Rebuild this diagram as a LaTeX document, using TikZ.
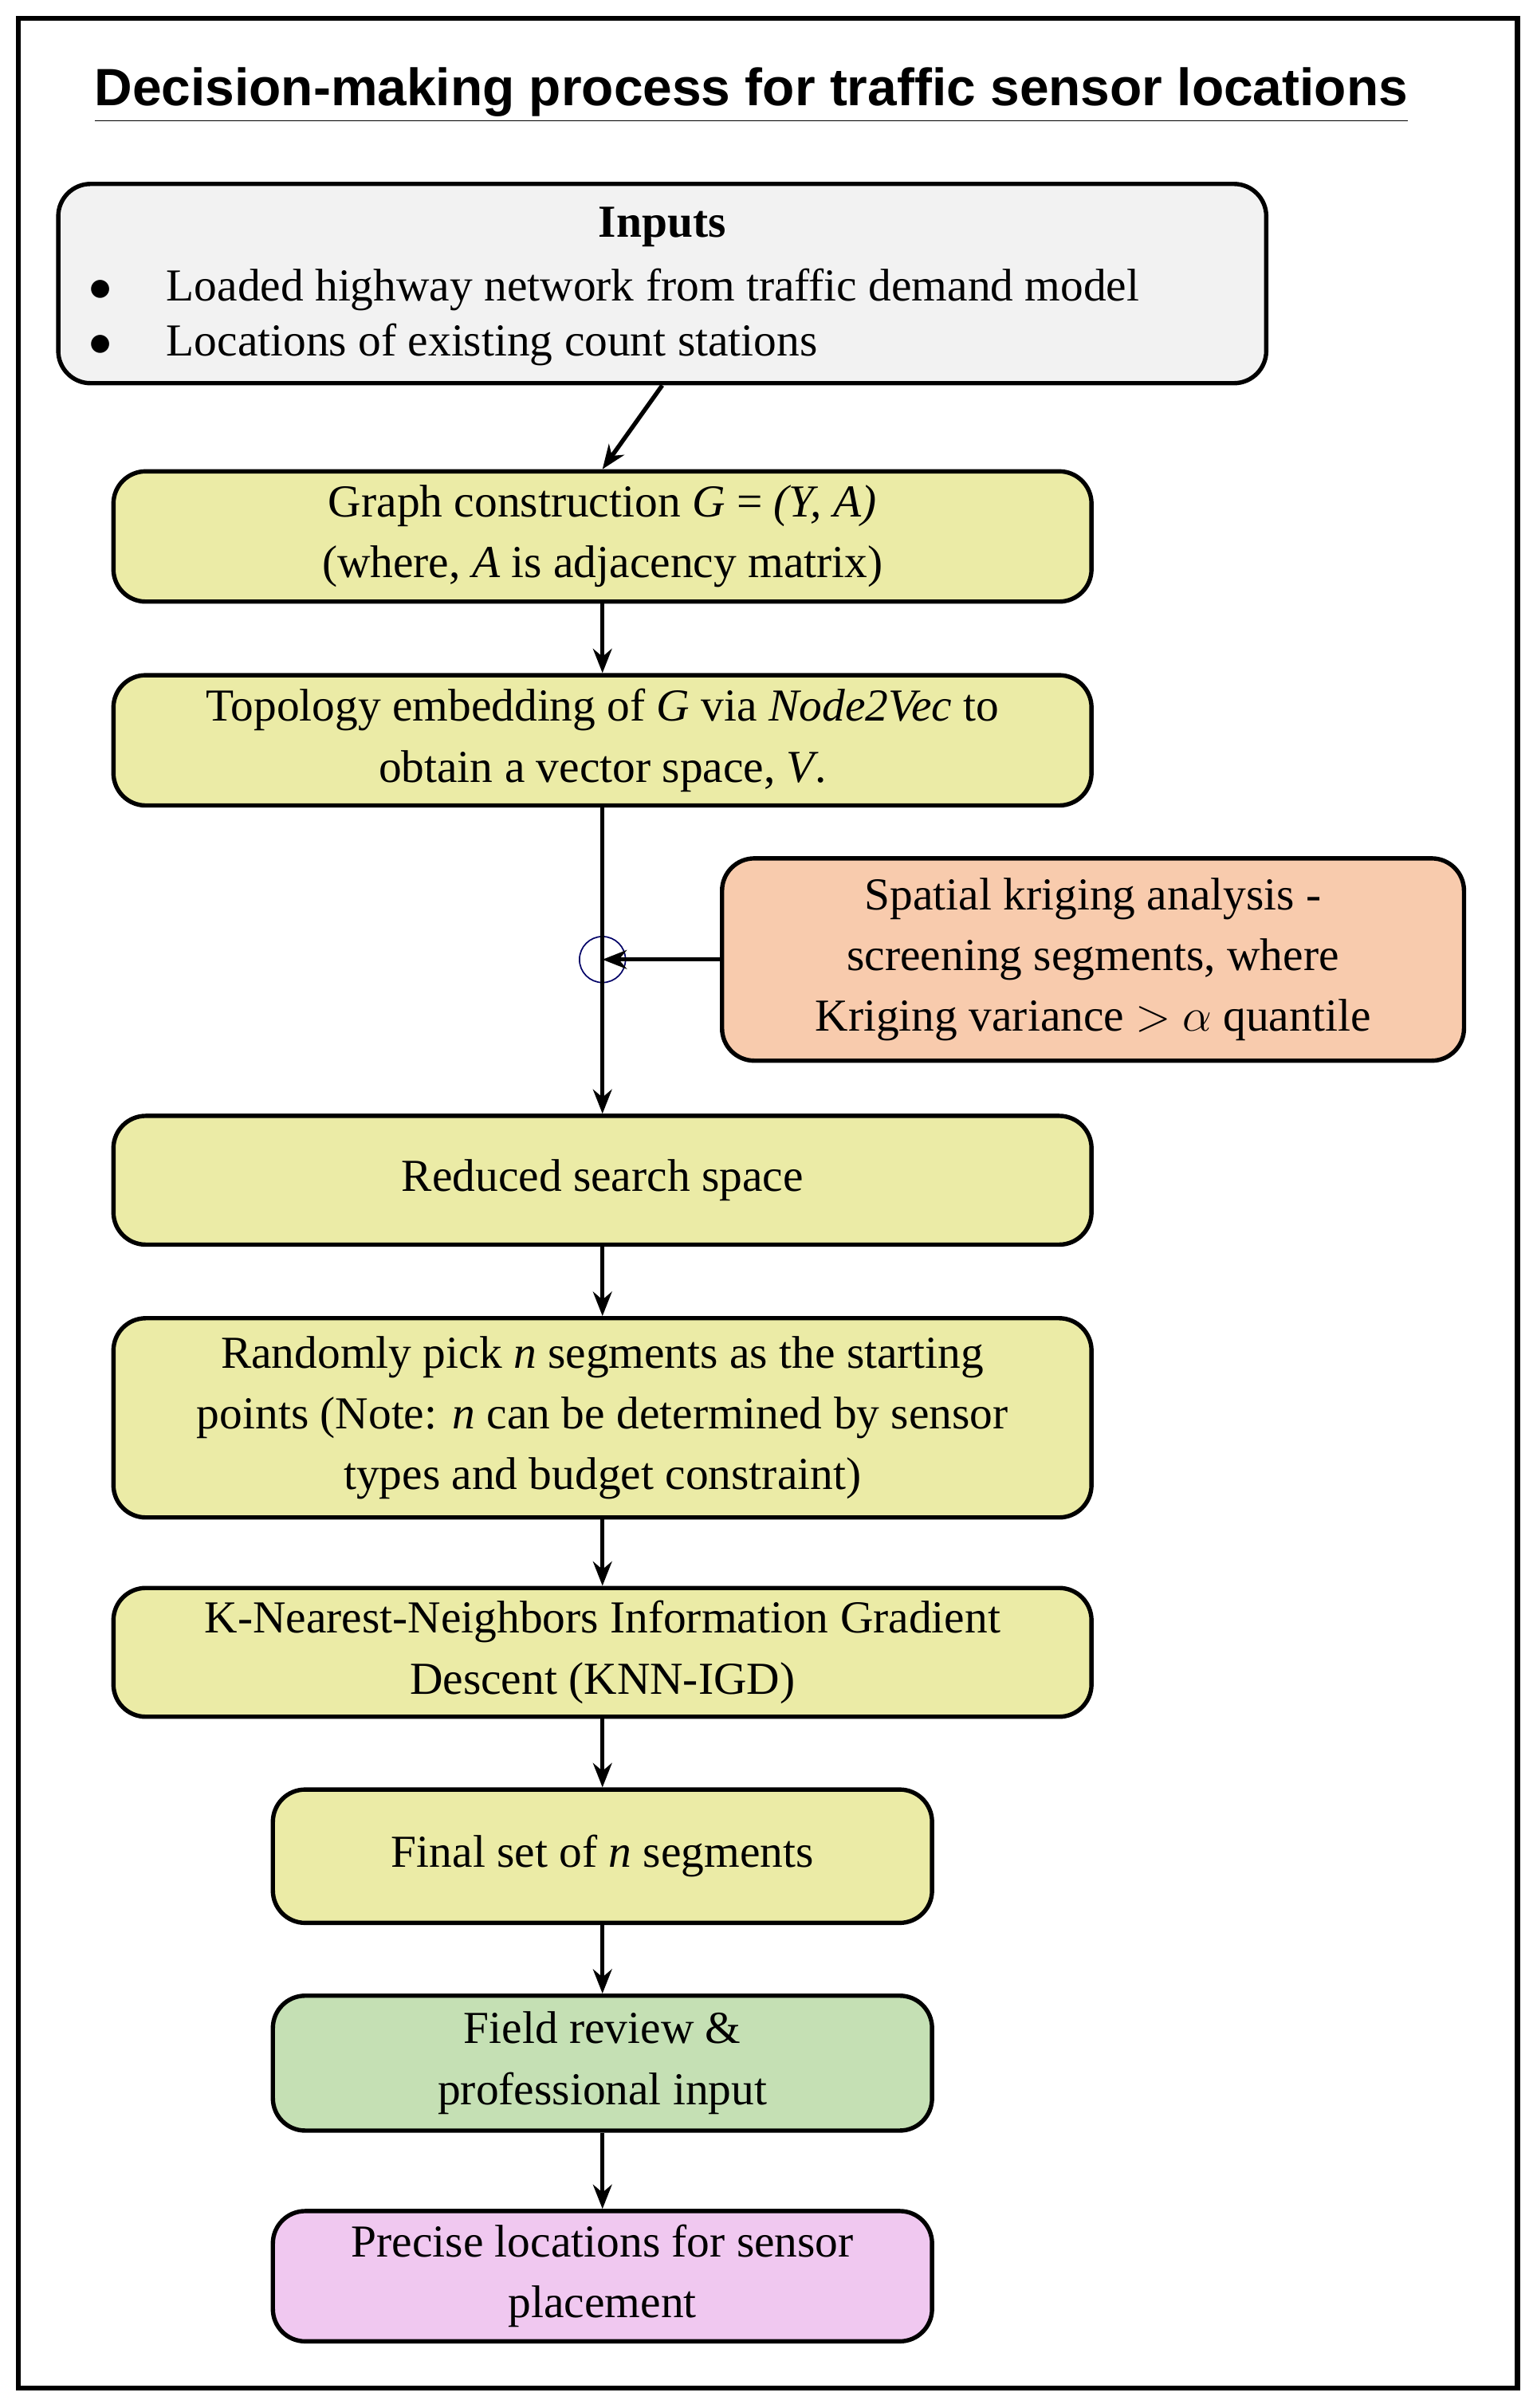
\documentclass[tikz,border=0pt]{standalone}
\usepackage{fontspec}
\setmainfont{Liberation Serif}
\newfontfamily\titlefont{Liberation Sans}
\usetikzlibrary{arrows.meta}
\definecolor{ylw}{HTML}{EBEBA6}
\definecolor{gry}{HTML}{F2F2F2}
\definecolor{org}{HTML}{F8CBAD}
\definecolor{grn}{HTML}{C5E0B4}
\definecolor{pnk}{HTML}{F0C8F0}
\begin{document}
\begin{tikzpicture}[x=0.02cm,y=-0.02cm,
 box/.style={draw=black,line width=1.6pt,rounded corners=12pt,align=center,inner sep=0pt,
   font=\fontsize{17}{22.6}\selectfont},
 arr/.style={line width=1.6pt,-{Stealth[length=9pt,width=7pt]}}]
\useasboundingbox (0,0) rectangle (1000,1571);
\draw[line width=2pt] (12,12) rectangle (990,1558);
\node (title) at (490,62) {\titlefont\bfseries\fontsize{19.5}{22}\selectfont\underline{Decision-making process for traffic sensor locations}};
\node[box,fill=gry,minimum width=788*0.02cm,minimum height=130*0.02cm] (inp) at (432,185) {};
\node[font=\fontsize{17}{22.6}\selectfont\bfseries] (inph) at (432,148) {Inputs};
\node[font=\fontsize{17}{22.6}\selectfont,align=left,anchor=west] (inpt) at (52,207) {$\bullet$\hspace{20pt}Loaded highway network from traffic demand model\\[-2pt]$\bullet$\hspace{20pt}Locations of existing count stations};
\node[box,fill=ylw,minimum width=638*0.02cm,minimum height=85*0.02cm] (g) at (393,350) {Graph construction \textit{G} = \textit{(Y, A)}\\(where, \textit{A} is adjacency matrix)};
\node[box,fill=ylw,minimum width=638*0.02cm,minimum height=85*0.02cm] (t) at (393,483) {Topology embedding of \textit{G} via \textit{Node2Vec} to\\obtain a vector space, \textit{V}.};
\node[box,fill=org,minimum width=484*0.02cm,minimum height=132*0.02cm] (k) at (713,626) {Spatial kriging analysis -\\screening segments, where\\Kriging variance $>$ $\alpha$ quantile};
\node[draw=blue!40!black,line width=0.5pt,circle,minimum size=30*0.02cm,inner sep=0pt] (c) at (393,626) {};
\node[box,fill=ylw,minimum width=638*0.02cm,minimum height=84*0.02cm] (r) at (393,770) {Reduced search space};
\node[box,fill=ylw,minimum width=638*0.02cm,minimum height=130*0.02cm] (rp) at (393,925) {Randomly pick \textit{n} segments as the starting\\points (Note: \textit{n} can be determined by sensor\\types and budget constraint)};
\node[box,fill=ylw,minimum width=638*0.02cm,minimum height=84*0.02cm] (knn) at (393,1078) {K-Nearest-Neighbors Information Gradient\\Descent (KNN-IGD)};
\node[box,fill=ylw,minimum width=430*0.02cm,minimum height=87*0.02cm] (f) at (393,1211) {Final set of \textit{n} segments};
\node[box,fill=grn,minimum width=430*0.02cm,minimum height=88*0.02cm] (fr) at (393,1346) {Field review \&\\professional input};
\node[box,fill=pnk,minimum width=430*0.02cm,minimum height=85*0.02cm] (p) at (393,1485) {Precise locations for sensor\\placement};
\draw[arr] (inp.south) -- (g.north);
\draw[arr] (g) -- (t);
\draw[arr] (t.south) -- (r.north);
\draw[arr] (k.west) -- (c.center);
\draw[arr] (r) -- (rp);
\draw[arr] (rp) -- (knn);
\draw[arr] (knn) -- (f);
\draw[arr] (f) -- (fr);
\draw[arr] (fr) -- (p);
\end{tikzpicture}
\end{document}
